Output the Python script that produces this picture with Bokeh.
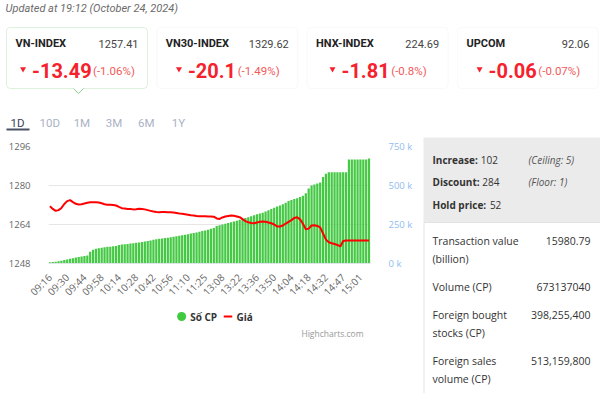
import math
from bokeh.plotting import figure
from bokeh.models import Range1d, LinearAxis, FixedTicker, BoxAnnotation, ColumnDataSource
from bokeh.layouts import column, row
from bokeh.embed import file_html
from bokeh.resources import INLINE
from bokeh.core.properties import value

# ---------------- data ----------------
updated_text = "Updated at 19:12 (October 24, 2024)"
index_names = ["VN-INDEX", "VN30-INDEX", "HNX-INDEX", "UPCOM"]
index_values = ["1257.41", "1329.62", "224.69", "92.06"]
index_changes = ["-13.49", "-20.1", "-1.81", "-0.06"]
index_pcts = ["(-1.06%)", "(-1.49%)", "(-0.8%)", "(-0.07%)"]
period_tabs = ["1D", "10D", "1M", "3M", "6M", "1Y"]

time_labels = ["09:16", "09:30", "09:44", "09:58", "10:14", "10:28", "10:42", "10:56",
               "11:10", "11:25", "13:08", "13:22", "13:36", "13:50", "14:04", "14:18",
               "14:32", "14:47", "15:01"]
label_step = 6

# cumulative volume, thousands of shares (Số CP)
volume_k = [8, 10, 12, 15, 18, 22, 26, 30, 34, 38, 42, 45, 48, 52,
            75, 88, 95, 98, 101, 104, 107, 108, 110, 112,
            118, 121, 123, 125, 128, 130, 133, 135, 138, 141, 144, 148, 152, 155,
            158, 160, 163, 165, 168, 172, 175, 178, 181, 184, 188, 192, 196, 199, 203, 208, 212, 216, 222, 228,
            240, 245, 250, 255, 260, 265, 270, 274,
            280, 285, 291, 297, 303, 309, 315, 320, 326, 333, 341, 350, 358, 365,
            372, 380, 390, 400, 407, 413, 418, 426, 435, 450, 480, 500, 507, 513, 520, 555,
            575,
            585, 585, 585, 585, 585, 585, 585,
            667, 667, 667, 667, 667, 667, 667, 673]

# index price (Giá)
price = [1271.5, 1270.4, 1269.6, 1269.9, 1270.8, 1272.4, 1273.6, 1274.0, 1273.2, 1272.5, 1272.2, 1272.3, 1272.6, 1272.9,
         1273.1, 1273.1, 1273.1, 1273.0, 1272.7, 1272.3, 1272.1, 1272.1, 1272.0, 1271.8, 1271.2, 1270.7, 1270.6, 1270.4,
         1270.4, 1270.2, 1270.3, 1270.5, 1270.4, 1270.2, 1269.9, 1269.6, 1269.3, 1269.1, 1269.0, 1269.1, 1269.1, 1269.0,
         1269.0, 1268.9, 1268.7, 1268.5, 1268.4, 1268.2, 1268.0, 1267.8, 1267.7, 1267.5, 1267.4, 1267.4, 1267.4, 1267.3,
         1267.3, 1267.2, 1266.5, 1266.3, 1266.9, 1267.3, 1267.5, 1267.7, 1267.6, 1267.3, 1267.0, 1266.2, 1265.4, 1264.9,
         1264.6, 1264.5, 1264.8, 1265.1, 1265.2, 1265.1, 1264.8, 1264.5, 1264.0, 1263.2, 1263.2, 1263.6, 1264.4, 1265.1,
         1265.8, 1266.7, 1267.0, 1266.1, 1264.3, 1262.0, 1262.3, 1263.6, 1263.7, 1263.4, 1262.8, 1260.3, 1257.8, 1256.7,
         1256.3, 1256.0, 1255.6, 1255.0, 1257.2, 1257.4, 1257.41, 1257.41, 1257.41, 1257.41, 1257.41, 1257.41, 1257.41, 1257.41]

price_ticks = [1248, 1264, 1280, 1296]
vol_ticks = [0, 250, 500, 750]
vol_tick_labels = ["0 k", "250 k", "500 k", "750 k"]
series_names = ["Số CP", "Giá"]
credit_text = "Highcharts.com"

breadth_labels = ["Increase:", "Discount:", "Hold price:"]
breadth_values = ["102", "284", "52"]
breadth_notes = ["(Ceiling: 5)", "(Floor: 1)", ""]
stat_labels = [["Transaction value", "(billion)"], ["Volume (CP)"],
               ["Foreign bought", "stocks (CP)"], ["Foreign sales", "volume (CP)"]]
stat_values = ["15980.79", "673137040", "398,255,400", "513,159,800"]

# ---------------- helpers ----------------
ROBOTO_BOLD = {"-": 0.28, ".": 0.27}
ROBOTO_REG = {"(": 0.342, ")": 0.348, "-": 0.276, ".": 0.263, "%": 0.733}
OPEN_BOLD = {"I": .33, "n": .66, "c": .51, "r": .45, "e": .59, "a": .6, "s": .5, ":": .29,
             "D": .74, "i": .3, "o": .62, "u": .66, "t": .4, "H": .8, "l": .3, "d": .66,
             " ": .26, "p": .66}


def text_w(s, size, table, default=0.562):
    return sum(table.get(c, default) for c in s) * size


def canvas(w, h, x0, y0):
    f = figure(width=w, height=h, x_range=Range1d(x0, x0 + w), y_range=Range1d(y0 + h, y0),
               output_backend="svg", toolbar_location=None, x_axis_type=None, y_axis_type=None,
               min_border=0, outline_line_color=None, background_fill_color="white",
               border_fill_color="white")
    f.xgrid.visible = False
    f.ygrid.visible = False
    return f


# ---------------- header (updated, cards, tabs) ----------------
hdr = canvas(600, 135, 0, 0)

hdr.text(x=[5], y=[8], text=[updated_text], text_font=value("Roboto"),
         text_font_style="italic", text_font_size="11px", text_color="#6b6b6b",
         text_baseline="middle", text_align="left")

card_w, card_step, card_x0, card_top, card_bot = 141, 150.3, 6, 27, 88
cx_l, cx_v, tri_x, chg_x, pct_x = [], [], [], [], []
for k in range(len(index_names)):
    left = card_x0 + k * card_step
    right = left + card_w
    active = (k == 0)
    box = BoxAnnotation(left=left, right=right, top=card_top, bottom=card_bot,
                        fill_color="white", fill_alpha=1.0,
                        line_color="#8fd18f" if active else "#ebebeb", line_width=1,
                        border_radius=4, level="underlay")
    hdr.add_layout(box)
    if active:
        px = left + 72
        hdr.patch(x=[px - 5, px, px + 5], y=[card_bot - 0.5, card_bot + 5, card_bot - 0.5],
                  fill_color="white", line_color=None)
        hdr.multi_line(xs=[[px - 5, px], [px, px + 5]],
                       ys=[[card_bot, card_bot + 5], [card_bot + 5, card_bot]],
                       line_color="#8fd18f", line_width=1)
    cx_l.append(left + 9)
    cx_v.append(left + 132)
    cw = text_w(index_changes[k], 20, ROBOTO_BOLD)
    pw = text_w(index_pcts[k], 11.5, ROBOTO_REG)
    total = 13 + cw + 5 + pw
    start = left + card_w / 2 - total / 2
    tri_x.append(start + 4)
    chg_x.append(start + 13)
    pct_x.append(start + 13 + cw + 5)

n_cards = len(index_names)
hdr.text(x=cx_l, y=[43] * n_cards, text=index_names, text_font=value("Roboto"),
         text_font_style="bold", text_font_size="11px", text_color="#222222",
         text_baseline="middle", text_align="left")
hdr.text(x=cx_v, y=[43] * n_cards, text=index_values, text_font=value("Roboto"),
         text_font_size="11px", text_color="#444444", text_baseline="middle", text_align="right")
hdr.scatter(x=tri_x, y=[68.5] * n_cards, marker="inverted_triangle", size=6,
            fill_color="#f5222d", line_color=None)
hdr.text(x=chg_x, y=[70] * n_cards, text=index_changes, text_font=value("Roboto"),
         text_font_style="bold", text_font_size="20px", text_color="#f5222d",
         text_baseline="middle", text_align="left")
hdr.text(x=pct_x, y=[70.5] * n_cards, text=index_pcts, text_font=value("Roboto"),
         text_font_size="11.5px", text_color="#f25a5a", text_baseline="middle", text_align="left")

tab_x = [17 + 32.2 * k for k in range(len(period_tabs))]
tab_col = ["#3a4256"] + ["#aab2c5"] * (len(period_tabs) - 1)
hdr.text(x=tab_x, y=[122] * len(period_tabs), text=period_tabs, text_font=value("Roboto"),
         text_font_size="11.5px", text_color=tab_col, text_baseline="middle", text_align="center")
hdr.quad(left=[6], right=[29], top=[128], bottom=[130], fill_color="#4a5266", line_color=None)

# ---------------- chart ----------------
n = len(volume_k)
src = ColumnDataSource(dict(x=list(range(n)), vol=volume_k, price=price))

ch = figure(width=416, height=171, x_range=Range1d(-0.5, n - 0.5),
            y_range=Range1d(price_ticks[0], price_ticks[-1]),
            output_backend="svg", toolbar_location=None,
            min_border_left=48, min_border_right=46, min_border_top=11, min_border_bottom=43,
            outline_line_color=None, background_fill_color="white", border_fill_color="white")
ch.extra_y_ranges = {"vol": Range1d(vol_ticks[0], vol_ticks[-1])}

ch.xgrid.visible = False
ch.ygrid.ticker = FixedTicker(ticks=price_ticks)
ch.ygrid.grid_line_color = "#e6e6e6"

ch.yaxis.ticker = FixedTicker(ticks=price_ticks)
ch.yaxis.axis_line_color = None
ch.yaxis.major_tick_line_color = None
ch.yaxis.minor_tick_line_color = None
ch.yaxis.major_label_standoff = 12
ch.yaxis.major_label_text_color = "#666666"
ch.yaxis.major_label_text_font = "Open Sans"
ch.yaxis.major_label_text_font_size = "9.5px"

tick_idx = [i * label_step for i in range(len(time_labels))]
ch.xaxis.ticker = FixedTicker(ticks=tick_idx)
ch.xaxis.major_label_overrides = {t: lbl for t, lbl in zip(tick_idx, time_labels)}
ch.xaxis.major_label_orientation = math.pi / 4
ch.xaxis.axis_line_color = "#dfe4ec"
ch.xaxis.major_tick_line_color = None
ch.xaxis.minor_tick_line_color = None
ch.xaxis.major_label_standoff = 6
ch.xaxis.major_label_text_color = "#666666"
ch.xaxis.major_label_text_font = "Open Sans"
ch.xaxis.major_label_text_font_size = "10px"

raxis = LinearAxis(y_range_name="vol", ticker=FixedTicker(ticks=vol_ticks),
                   major_label_overrides={t: l for t, l in zip(vol_ticks, vol_tick_labels)},
                   axis_line_color=None, major_tick_line_color=None, minor_tick_line_color=None,
                   major_label_standoff=12, major_label_text_color="#90bdf0",
                   major_label_text_font="Open Sans", major_label_text_font_size="9.5px")
ch.add_layout(raxis, "right")

ch.vbar(x="x", top="vol", bottom=0, width=0.78, y_range_name="vol", source=src,
        fill_color="#45c945", line_color=None)
ch.line(x="x", y="price", source=src, line_color="#ff0000", line_width=2)

# ---------------- legend + credit (footer under chart) ----------------
foot = canvas(416, 87, 0, 306)
leg_y = 316
name_w = text_w(series_names[0], 10, OPEN_BOLD, 0.62)
leg_x0 = 172
foot.scatter(x=[leg_x0], y=[leg_y], marker="circle", size=9, fill_color="#3fca3f", line_color=None)
foot.text(x=[leg_x0 + 11], y=[leg_y], text=[series_names[0]], text_font=value("Open Sans"),
          text_font_style="bold", text_font_size="10px", text_color="#333333",
          text_baseline="middle", text_align="left")
lx = leg_x0 + 11 + name_w + 16
foot.line(x=[lx, lx + 11], y=[leg_y, leg_y], line_color="#ff0000", line_width=2)
foot.text(x=[lx + 16.5], y=[leg_y], text=[series_names[1]], text_font=value("Open Sans"),
          text_font_style="bold", text_font_size="10px", text_color="#333333",
          text_baseline="middle", text_align="left")
foot.text(x=[407], y=[333], text=[credit_text], text_font=value("Open Sans"),
          text_font_size="8.5px", text_color="#999999", text_baseline="middle", text_align="right")

# ---------------- right panel ----------------
pn = canvas(184, 258, 416, 135)
pn.quad(left=[423], right=[600], top=[137], bottom=[222], fill_color="#ebebeb", line_color=None)
pn.quad(left=[423.5], right=[601], top=[222], bottom=[395], fill_color="white", line_color="#e3e3e3")

nb = len(breadth_labels)
b_y = [159 + 22.5 * k for k in range(nb)]
pn.text(x=[432] * nb, y=b_y, text=breadth_labels, text_font=value("Open Sans"),
        text_font_style="bold", text_font_size="10px", text_color="#333333",
        text_baseline="middle", text_align="left")
pn.text(x=[432 + text_w(l, 10, OPEN_BOLD, 0.58) + 3 for l in breadth_labels], y=b_y,
        text=breadth_values, text_font=value("Open Sans"), text_font_size="10px",
        text_color="#333333", text_baseline="middle", text_align="left")
pn.text(x=[528] * nb, y=b_y, text=breadth_notes, text_font=value("Open Sans"),
        text_font_style="italic", text_font_size="10px", text_color="#555555",
        text_baseline="middle", text_align="left")

sl_x, sl_y, sl_t, sv_y = [], [], [], []
yy = 240
for lines in stat_labels:
    sv_y.append(yy)
    for j, t in enumerate(lines):
        sl_x.append(432)
        sl_y.append(yy + 18 * j)
        sl_t.append(t)
    yy += 18 * len(lines) + 10
pn.text(x=sl_x, y=sl_y, text=sl_t, text_font=value("Open Sans"), text_font_size="10.5px",
        text_color="#333333", text_baseline="middle", text_align="left")
pn.text(x=[590] * len(stat_values), y=sv_y, text=stat_values, text_font=value("Open Sans"),
        text_font_size="10.5px", text_color="#333333", text_baseline="middle", text_align="right")

layout = column(hdr, row(column(ch, foot, spacing=0), pn, spacing=0), spacing=0)
open("out.html", "w").write(file_html(layout, INLINE))
